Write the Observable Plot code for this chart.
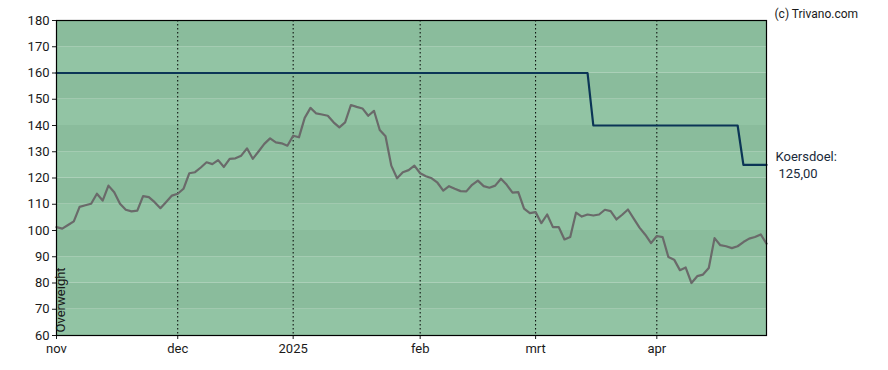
<!DOCTYPE html>
<html>
<head>
<meta charset="utf-8">
<script src="https://cdn.jsdelivr.net/npm/d3@7"></script>
<script src="https://cdn.jsdelivr.net/npm/@observablehq/plot@0.6"></script>
<style>
  html, body { margin: 0; padding: 0; background: #ffffff; }
  #chart svg { display: block; }
</style>
</head>
<body>
<div id="chart"></div>
<script>
// Trading-day index (0 = 1 Nov 2024) for each month start
const monthStarts = [0, 21, 41, 63, 83, 104];
const monthLabels = ["nov", "dec", "2025", "feb", "mrt", "apr"];

// Y axis ticks
const yTicks = [60, 70, 80, 90, 100, 110, 120, 130, 140, 150, 160, 170, 180];

// Daily closing price (one value per trading day, Nov 2024 – Apr 2025)
const prices = [
  101.3, 100.7, 102.1, 103.5, 109.0, 109.6, 110.2, 114.0, 111.4, 117.1,
  114.6, 110.2, 107.9, 107.3, 107.6, 113.1, 112.7, 110.8, 108.5, 110.9,
  113.3, 114.0, 115.9, 121.8, 122.2, 124.0, 126.0, 125.3, 126.8, 124.2,
  127.3, 127.5, 128.5, 131.3, 127.3, 130.1, 133.0, 135.1, 133.6, 133.2,
  132.3, 136.1, 135.5, 142.9, 146.7, 144.6, 144.2, 143.7, 141.2, 139.3,
  141.2, 147.8, 147.1, 146.5, 143.7, 145.6, 138.3, 135.9, 124.7, 119.9,
  122.2, 123.0, 124.7, 121.8, 120.7, 119.9, 118.2, 115.2, 116.9, 115.9,
  115.0, 114.9, 117.4, 119.0, 116.9, 116.3, 117.1, 119.7, 117.4, 114.4,
  114.6, 108.3, 106.6, 107.0, 102.8, 106.1, 101.3, 101.3, 96.6, 97.5,
  106.8, 105.3, 106.1, 105.7, 106.1, 107.9, 107.4, 104.2, 106.0, 108.0,
  104.5, 101.1, 98.4, 95.2, 97.9, 97.5, 89.9, 88.9, 84.9, 85.9,
  80.0, 82.6, 83.2, 85.7, 97.1, 94.4, 94.0, 93.3, 94.0, 95.6,
  96.9, 97.5, 98.5, 95.0
];

// Price target (koersdoel): day index where each level starts, and the level
const targetStarts = [0, 93, 119];
const targetLevels = [160, 140, 125];

const rating = "Overweight";
const targetLabel = "Koersdoel:";
const targetValueLabel = "125,00";
const copyright = "(c) Trivano.com";

// Build tables
const priceData = prices.map((v, i) => ({i, v}));
const targetData = prices.map((_, i) => {
  let lvl = targetLevels[0];
  targetStarts.forEach((s, k) => { if (i >= s) lvl = targetLevels[k]; });
  return {i, v: lvl};
});
const bands = yTicks.slice(0, -1).map((t, k) => ({y1: t, y2: yTicks[k + 1], dark: k % 2 === 1}));
const lastIdx = prices.length - 1;
const lastTarget = targetData[lastIdx];

const chart = Plot.plot({
  width: 888,
  height: 370,
  marginLeft: 56,
  marginRight: 122,
  marginTop: 20,
  marginBottom: 35,
  style: {fontFamily: "Roboto, sans-serif", fontSize: "13px", color: "#1a1a1a", background: "#ffffff", overflow: "visible"},
  x: {domain: [0, lastIdx]},
  y: {domain: [60, 180]},
  marks: [
    Plot.rect(bands, {y1: "y1", y2: "y2", fill: d => d.dark ? "#8abc9c" : "#92c4a4"}),
    Plot.ruleX(monthStarts.slice(1), {stroke: "#000", strokeWidth: 1, strokeDasharray: "1.5,2.5"}),
    Plot.axisY({ticks: yTicks, tickSize: 4, tickPadding: 3, label: null, fontSize: 13}),
    Plot.axisX({ticks: monthStarts, tickFormat: (d) => monthLabels[monthStarts.indexOf(d)], tickSize: 4, tickPadding: 4, label: null, fontSize: 13}),
    Plot.line(targetData, {x: "i", y: "v", stroke: "#0b3556", strokeWidth: 2.2}),
    Plot.line(priceData, {x: "i", y: "v", stroke: "#6a6a6a", strokeWidth: 2.2}),
    Plot.frame({stroke: "#000", strokeWidth: 1.2}),
    Plot.text([rating], {frameAnchor: "bottom-left", text: d => d, rotate: -90, textAnchor: "start", dx: 8, dy: -3, fontSize: 13, fill: "#1a1a1a"}),
    Plot.text([lastTarget], {x: "i", y: "v", text: () => targetLabel, textAnchor: "start", dx: 9, dy: -8, fontSize: 13, fill: "#1a2a3a"}),
    Plot.text([lastTarget], {x: "i", y: "v", text: () => targetValueLabel, textAnchor: "start", dx: 12, dy: 9, fontSize: 13, fill: "#1a2a3a"}),
    Plot.text([copyright], {frameAnchor: "top-right", text: d => d, textAnchor: "start", dx: 8, dy: -11, fontSize: 12, fill: "#1a1a1a"})
  ]
});
document.getElementById("chart").appendChild(chart);
</script>
</body>
</html>
